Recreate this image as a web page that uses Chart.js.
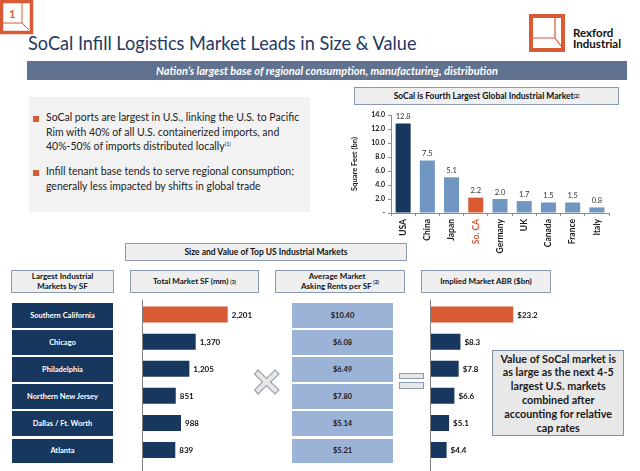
<!DOCTYPE html>
<html><head><meta charset="utf-8">
<script src="https://cdn.jsdelivr.net/npm/chart.js@4/dist/chart.umd.min.js"></script>
<style>
body{margin:0;width:640px;height:471px;overflow:hidden;background:#fff;font-family:Lato,'Open Sans',sans-serif;position:relative}
.abs{position:absolute}
.hdr{position:absolute;background:#efefef;border:1.5px solid #8a9ab3;box-sizing:border-box;display:flex;align-items:center;justify-content:center;text-align:center;font-weight:bold;font-size:8px;color:#111;line-height:1.2}
sup{font-size:5px;vertical-align:4px;line-height:0}
.row{position:absolute;box-sizing:border-box;display:flex;align-items:center;justify-content:center;font-weight:bold;font-size:7.5px;text-align:center}
.bul{position:absolute;left:46px;font-size:11.5px;line-height:14.5px;color:#222;white-space:nowrap;transform:scaleX(0.91);transform-origin:0 0}
.bul sup{font-size:6px}
.sq{position:absolute;width:6px;height:6px;background:#d95b36}
canvas{position:absolute}
</style></head><body>

<svg class="abs" style="left:0;top:0" width="34" height="35">
  <rect x="1.5" y="1.5" width="30" height="31" fill="#fff" stroke="#d95b36" stroke-width="3.5"/>
  <path d="M22 2 V23 H2 M22 23 L29 30" fill="none" stroke="#d95b36" stroke-width="1"/>
  <text x="9" y="18" font-family="Lato" font-weight="bold" font-size="11" fill="#d95b36">1</text>
</svg>
<div class="abs" style="left:28px;top:31px;font-size:19px;color:#1f3864;white-space:nowrap;transform:scaleX(0.953);transform-origin:0 0">SoCal Infill Logistics Market Leads in Size &amp; Value</div>

<svg class="abs" style="left:529px;top:14px" width="37" height="38">
  <rect x="2" y="2" width="32" height="34" fill="#fff" stroke="#d95b36" stroke-width="4"/>
  <path d="M26 4 V24 H4 M26 24 L32 32" fill="none" stroke="#d95b36" stroke-width="1.2"/>
</svg>
<div class="abs" style="left:573px;top:27px;font-size:11.5px;font-weight:bold;line-height:11px;color:#111">Rexford<br>Industrial</div>

<div class="abs" style="left:27px;top:61px;width:600px;height:19px;background:#60728f;color:#fff;font-weight:bold;font-style:italic;font-size:11px;display:flex;align-items:center;justify-content:center">Nation’s largest base of regional consumption, manufacturing, distribution</div>

<div class="abs" style="left:29px;top:97px;width:281px;height:115px;background:#f2f2f2"></div>
<div class="sq" style="left:33px;top:116px"></div>
<div class="bul" style="top:110px">SoCal ports are largest in U.S., linking the U.S. to Pacific<br>Rim with 40% of all U.S. containerized imports, and<br>40%-50% of imports distributed locally<sup>(1)</sup></div>
<div class="sq" style="left:33px;top:170px"></div>
<div class="bul" style="top:164px">Infill tenant base tends to serve regional consumption;<br>generally less impacted by shifts in global trade</div>

<div class="hdr" style="left:354px;top:87px;width:265px;height:18px;font-size:8.5px">SoCal is Fourth Largest Global Industrial Market<sup>(2)</sup></div>

<canvas id="globalChart" width="266" height="156" style="left:348px;top:106px"></canvas>

<div class="hdr" style="left:125px;top:243px;width:282px;height:18px;font-size:8.5px">Size and Value of Top US Industrial Markets</div>
<div class="hdr" style="left:11px;top:270px;width:103px;height:23px">Largest Industrial<br>Markets by SF</div>
<div class="hdr" style="left:130px;top:270px;width:129px;height:23px">Total Market SF (mm)&nbsp;<sup>(3)</sup></div>
<div class="hdr" style="left:275px;top:270px;width:130px;height:23px">Average Market<br>Asking Rents per SF&nbsp;<sup>(2)</sup></div>
<div class="hdr" style="left:421px;top:270px;width:130px;height:23px">Implied Market ABR ($bn)</div>

<div id="rows"></div>

<canvas id="sfChart" width="140" height="171" style="left:130px;top:300px"></canvas>
<canvas id="abrChart" width="130" height="171" style="left:418px;top:300px"></canvas>

<svg class="abs" style="left:254px;top:369px" width="26" height="26">
  <path d="M4 1 L12.5 9.5 L21 1 L25 5 L16.5 13 L25 21 L21 25 L12.5 16.5 L4 25 L0.5 21 L8.5 13 L0.5 5 Z" fill="#e8e8e8" stroke="#9aa3ae" stroke-width="1.2"/>
</svg>
<div class="abs" style="left:399px;top:373px;width:25px;height:6px;background:#e8e8e8;border:1px solid #8a9ab3;box-sizing:border-box"></div>
<div class="abs" style="left:399px;top:382px;width:25px;height:7px;background:#e8e8e8;border:1px solid #8a9ab3;box-sizing:border-box"></div>

<div class="abs" style="left:492px;top:350px;width:132px;height:86px;background:#e8e8e8;border:1.5px solid #7f8fa6;box-sizing:border-box;display:flex;align-items:center;justify-content:center">
  <div style="text-align:center;font-weight:bold;font-size:12px;line-height:13.8px;color:#1a1a1a;white-space:nowrap;transform:scaleX(0.9)">Value of SoCal market is<br>as large as the next 4-5<br>largest U.S. markets<br>combined after<br>accounting for relative<br>cap rates</div>
</div>

<script>
// ---- data ----
const globalCategories = ['USA','China','Japan','So. CA','Germany','UK','Canada','France','Italy'];
const globalSqFtBn = [12.8, 7.5, 5.1, 2.2, 2.0, 1.7, 1.5, 1.5, 0.8];
const globalTickMax = 14;
const globalTickStep = 2;
const markets = ['Southern California','Chicago','Philadelphia','Northern New Jersey','Dallas / Ft. Worth','Atlanta'];
const totalMarketSfMm = [2201, 1370, 1205, 851, 988, 839];
const askingRentPerSf = [10.40, 6.08, 6.49, 7.80, 5.14, 5.21];
const impliedAbrBn = [23.2, 8.3, 7.8, 6.6, 5.1, 4.4];

const NAVY = '#17375e', ORANGE = '#d95b36', LBLUE = '#7096c2', RENT = '#9bb3d6';

// table cells (labels & rents)
const rowsEl = document.getElementById('rows');
markets.forEach((m, i) => {
  const top = 303 + i * 27.1;
  const a = document.createElement('div');
  a.className = 'row';
  a.style.cssText = `left:12px;top:${top}px;width:101px;height:24.5px;background:${NAVY};color:#fff`;
  a.textContent = m;
  rowsEl.appendChild(a);
  const b = document.createElement('div');
  b.className = 'row';
  b.style.cssText = `left:292px;top:${top}px;width:101px;height:24.5px;background:${RENT};color:#1a1a1a`;
  b.textContent = '$' + askingRentPerSf[i].toFixed(2);
  rowsEl.appendChild(b);
});

Chart.defaults.font.family = 'Lato';
Chart.defaults.animation = false;

function valueLabels(format, font, color, offset, horizontal) {
  return {
    id: 'valueLabels',
    afterDatasetsDraw(chart) {
      const ctx = chart.ctx, meta = chart.getDatasetMeta(0), data = chart.data.datasets[0].data;
      ctx.save(); ctx.font = font; ctx.fillStyle = color;
      meta.data.forEach((el, i) => {
        const t = format(data[i]);
        if (horizontal) { ctx.textAlign = 'left'; ctx.textBaseline = 'middle'; ctx.fillText(t, el.x + offset, el.y + 0.5); }
        else { ctx.textAlign = 'center'; ctx.textBaseline = 'bottom'; ctx.fillText(t, el.x, el.y - offset); }
      });
      ctx.restore();
    }
  };
}
const axisLine = {
  id: 'axisLine',
  afterDraw(chart) {
    const ctx = chart.ctx, x = Math.round(chart.scales.x.getPixelForValue(0)) - 0.5;
    ctx.save(); ctx.strokeStyle = '#7f7f7f'; ctx.lineWidth = 1;
    ctx.beginPath(); ctx.moveTo(x, 0); ctx.lineTo(x, chart.height); ctx.stroke(); ctx.restore();
  }
};

new Chart(document.getElementById('globalChart'), {
  type: 'bar',
  data: { labels: globalCategories, datasets: [{
    data: globalSqFtBn,
    backgroundColor: globalCategories.map((c, i) => i === 0 ? NAVY : (i === 3 ? ORANGE : LBLUE)),
    barPercentage: 0.62, categoryPercentage: 1
  }]},
  options: {
    responsive: false, devicePixelRatio: 1,
    layout: { padding: { top: 9, right: 5, left: 0, bottom: 0 } },
    plugins: { legend: { display: false }, tooltip: { enabled: false } },
    scales: {
      x: {
        grid: { drawOnChartArea: false, tickLength: 3, color: '#8c8c8c' },
        border: { color: '#8c8c8c' },
        ticks: { minRotation: 90, maxRotation: 90, autoSkip: false, padding: 3,
          font: { size: 8.5, weight: 'bold' },
          color: c => c.index === 3 ? ORANGE : '#1a1a1a' },
        afterFit: s => { s.height = 49; }
      },
      y: {
        min: 0, max: globalTickMax,
        grid: { drawOnChartArea: false, tickLength: 3, color: '#8c8c8c' },
        border: { color: '#8c8c8c' },
        ticks: { stepSize: globalTickStep, padding: 3, font: { size: 7, weight: 'bold' }, color: '#1a1a1a',
          callback: v => v === 0 ? '-' : v.toFixed(1) },
        title: { display: true, text: 'Square Feet (bn)', font: { size: 7.5, weight: 'bold' }, color: '#1a1a1a', padding: 2 },
        afterFit: s => { s.width = 43; }
      }
    }
  },
  plugins: [valueLabels(v => v.toFixed(1), '7.5px Lato', '#333', 3, false)]
});

function hbar(id, data, max, fmt) {
  new Chart(document.getElementById(id), {
    type: 'bar',
    data: { labels: markets, datasets: [{
      data,
      backgroundColor: data.map((v, i) => i === 0 ? ORANGE : NAVY),
      barPercentage: 0.59, categoryPercentage: 1
    }]},
    options: {
      indexAxis: 'y', responsive: false, devicePixelRatio: 1,
      layout: { padding: { top: 1, bottom: 7.4, left: 13, right: 0 } },
      plugins: { legend: { display: false }, tooltip: { enabled: false } },
      scales: { x: { display: false, min: 0, max }, y: { display: false } }
    },
    plugins: [axisLine, valueLabels(fmt, 'bold 8px Lato', '#111', 4, true)]
  });
}
hbar('sfChart', totalMarketSfMm, 3300, v => v.toLocaleString('en-US'));
hbar('abrChart', impliedAbrBn, 33, v => '$' + v.toFixed(1));
</script>
</body></html>
